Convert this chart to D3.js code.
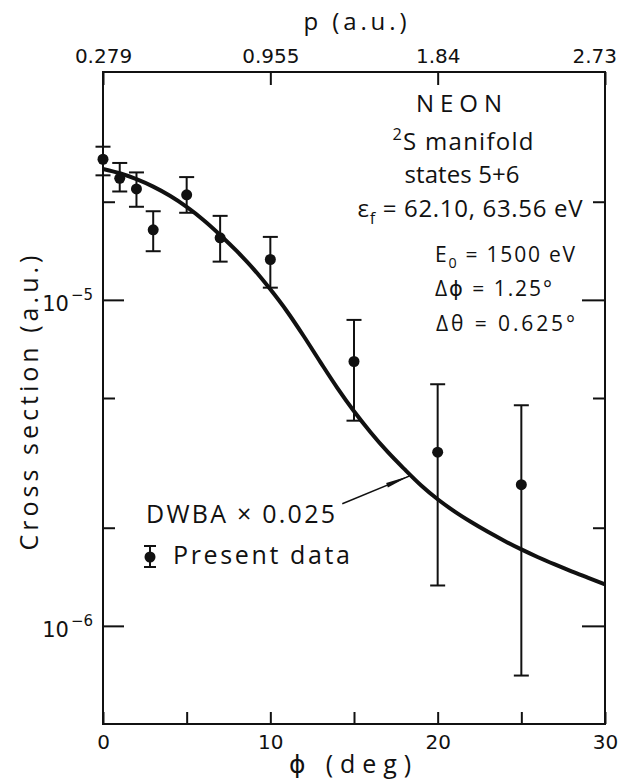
<!DOCTYPE html>
<html>
<head>
<meta charset="utf-8">
<script src="https://cdn.jsdelivr.net/npm/d3@7"></script>
<style>
  body { margin: 0; background: #fff; }
  text { font-family: "Open Sans", "DejaVu Sans", sans-serif; fill: #111; }
  .tk text { font-family: "DejaVu Sans", sans-serif; }
</style>
</head>
<body>
<div id="container"></div>
<script>
const w = 618, h = 783;
const margin = {top: 72, right: 13, bottom: 59, left: 103};

// Present data (phi in deg, cross section in a.u.)
const phiData = [0, 1, 2, 3, 5, 7, 10, 15, 20, 25];
const xsData  = [2.70e-5, 2.36e-5, 2.19e-5, 1.64e-5, 2.10e-5, 1.55e-5, 1.33e-5, 6.47e-6, 3.41e-6, 2.71e-6];
const errHigh = [2.95e-5, 2.63e-5, 2.46e-5, 1.87e-5, 2.38e-5, 1.81e-5, 1.56e-5, 8.68e-6, 5.51e-6, 4.75e-6];
const errLow  = [2.41e-5, 2.15e-5, 1.93e-5, 1.41e-5, 1.85e-5, 1.31e-5, 1.09e-5, 4.26e-6, 1.33e-6, 7.04e-7];

// DWBA x 0.025 curve
const phiCurve = [0,1,2,3,4,5,6,7,8,9,10,11,12,13,14,15,16,17,18,19,20,21,22,23,24,25,26,27,28,29,30];
const dwba = [2.520e-5, 2.445e-5, 2.346e-5, 2.225e-5, 2.086e-5, 1.929e-5, 1.759e-5, 1.582e-5, 1.410e-5, 1.243e-5,
              1.077e-5, 9.213e-6, 7.735e-6, 6.432e-6, 5.374e-6, 4.553e-6, 3.920e-6, 3.422e-6, 3.030e-6, 2.700e-6,
              2.445e-6, 2.245e-6, 2.082e-6, 1.943e-6, 1.822e-6, 1.716e-6, 1.624e-6, 1.543e-6, 1.470e-6, 1.404e-6, 1.341e-6];

// arrow from legend text to the curve
const arrowPhi = [14.3, 18.3];
const arrowVal = [2.37e-6, 2.88e-6];

// ticks
const bottomTicks = [0, 5, 10, 15, 20, 25, 30];
const bottomLabeled = [0, 10, 20, 30];
const topTicks = [0, 10, 20, 30];
const topLabels = ['0.279', '0.955', '1.84', '2.73'];
const yMajor = [1e-5, 1e-6];
const yMinor = [2e-5, 5e-6, 2e-6];

const svg = d3.select("#container").append("svg")
    .attr("width", w).attr("height", h);

const x = d3.scaleLinear().domain([0, 30]).range([margin.left, w - margin.right]);
const y = d3.scaleLog().domain([5e-7, 5e-5]).range([h - margin.bottom, margin.top]);

// bottom axis, ticks inward
svg.append("g").attr("class", "tk")
    .attr("transform", "translate(0," + (h - margin.bottom) + ")")
    .call(d3.axisBottom(x).tickValues(bottomTicks).tickSize(-12).tickPadding(11)
        .tickFormat(d => bottomLabeled.includes(d) ? d : ''))
    .call(g => g.select(".domain").remove())
    .call(g => g.selectAll("text").attr("font-size", 20));

// top axis
const topAx = svg.append("g").attr("class", "tk")
    .attr("transform", "translate(0," + margin.top + ")")
    .call(d3.axisTop(x).tickValues(topTicks).tickSize(-13).tickPadding(9)
        .tickFormat((d, i) => topLabels[i]))
    .call(g => g.select(".domain").remove())
    .call(g => g.selectAll("text").attr("font-size", 20));
// keep last label inside the page
topAx.selectAll(".tick text").each(function () {
    const b = this.getBBox();
    const tx = +this.parentNode.getAttribute("transform").match(/translate\(([\d.]+)/)[1];
    if (tx + b.x + b.width > w - 1) d3.select(this).attr("x", (w - 1) - (tx + b.x + b.width));
});

// left axis: major + minor
function supLabel(sel) {
    sel.selectAll("text").each(function (d) {
        const t = d3.select(this);
        t.text(null).attr("font-size", 21).attr("dy", "0.52em");
        t.append("tspan").text("10");
        t.append("tspan").attr("font-size", 15).attr("dy", "-0.72em").attr("dx", 2)
            .text("\u2212" + Math.round(-Math.log10(d)));
    });
}
svg.append("g").attr("class", "tk")
    .attr("transform", "translate(" + margin.left + ",0)")
    .call(d3.axisLeft(y).tickValues(yMajor).tickSize(-21).tickPadding(10))
    .call(g => g.select(".domain").remove())
    .call(supLabel);
svg.append("g")
    .attr("transform", "translate(" + margin.left + ",0)")
    .call(d3.axisLeft(y).tickValues(yMinor).tickSize(-12).tickFormat(''))
    .call(g => g.select(".domain").remove());
// right side
svg.append("g")
    .attr("transform", "translate(" + (w - margin.right) + ",0)")
    .call(d3.axisRight(y).tickValues(yMajor).tickSize(-23).tickFormat(''))
    .call(g => g.select(".domain").remove());
svg.append("g")
    .attr("transform", "translate(" + (w - margin.right) + ",0)")
    .call(d3.axisRight(y).tickValues(yMinor).tickSize(-12).tickFormat(''))
    .call(g => g.select(".domain").remove());

svg.selectAll(".tick line").attr("stroke", "#111").attr("stroke-width", 2);

// frame
svg.append("rect")
    .attr("x", x(0)).attr("y", y(5e-5))
    .attr("width", x(30) - x(0)).attr("height", y(5e-7) - y(5e-5))
    .attr("fill", "none").attr("stroke", "#111").attr("stroke-width", 2);

// DWBA curve
const curveData = phiCurve.map((p, i) => [p, dwba[i]]);
svg.append("path")
    .datum(curveData)
    .attr("d", d3.line().x(d => x(d[0])).y(d => y(d[1])).curve(d3.curveMonotoneX))
    .attr("fill", "none").attr("stroke", "#111").attr("stroke-width", 4);

// error bars + points
const pts = phiData.map((p, i) => ({phi: p, v: xsData[i], hi: errHigh[i], lo: errLow[i]}));
const cap = 7.5;
const eb = svg.append("g").attr("stroke", "#111").attr("stroke-width", 2);
eb.selectAll(".ev").data(pts).enter().append("line")
    .attr("x1", d => x(d.phi)).attr("x2", d => x(d.phi))
    .attr("y1", d => y(d.hi)).attr("y2", d => y(d.lo));
eb.selectAll(".ct").data(pts).enter().append("line")
    .attr("x1", d => x(d.phi) - cap).attr("x2", d => x(d.phi) + cap)
    .attr("y1", d => y(d.hi)).attr("y2", d => y(d.hi));
eb.selectAll(".cb").data(pts).enter().append("line")
    .attr("x1", d => x(d.phi) - cap).attr("x2", d => x(d.phi) + cap)
    .attr("y1", d => y(d.lo)).attr("y2", d => y(d.lo));
svg.selectAll(".dot").data(pts).enter().append("circle")
    .attr("class", "dot")
    .attr("cx", d => x(d.phi)).attr("cy", d => y(d.v)).attr("r", 5.5)
    .attr("fill", "#111");

// arrow
const ax0 = x(arrowPhi[0]), ay0 = y(arrowVal[0]), ax1 = x(arrowPhi[1]), ay1 = y(arrowVal[1]);
svg.append("line").attr("x1", ax0).attr("y1", ay0).attr("x2", ax1).attr("y2", ay1)
    .attr("stroke", "#111").attr("stroke-width", 1.5);
const ang = Math.atan2(ay1 - ay0, ax1 - ax0), L = 24, hw = 2.3;
const bx = ax1 - L * Math.cos(ang), by = ay1 - L * Math.sin(ang);
svg.append("path")
    .attr("d", `M${ax1},${ay1}L${bx - hw * Math.sin(ang)},${by + hw * Math.cos(ang)}L${bx + hw * Math.sin(ang)},${by - hw * Math.cos(ang)}Z`)
    .attr("fill", "#111");

// text helper: parts = [[string, 'n'|'sup'|'sub'], ...]
function label(px, py, parts, size, anchor, len) {
    const t = svg.append("text").attr("x", px).attr("y", py)
        .attr("font-size", size).attr("text-anchor", anchor || "start");
    let shift = 0;
    parts.forEach(([s, k]) => {
        const sp = t.append("tspan").text(s);
        let target = k === 'sup' ? -0.42 * size : k === 'sub' ? 0.3 * size : 0;
        if (k !== 'n') sp.attr("font-size", size * 0.68);
        sp.attr("dy", target - shift);
        shift = target;
    });
    if (len) t.attr("textLength", len).attr("lengthAdjust", "spacing");
    return t;
}

// annotation block
label(459, 112, [["NEON", 'n']], 24, "middle", 86);
label(463, 150, [["2", 'sup'], ["S manifold", 'n']], 24, "middle", 141);
label(462, 183, [["states 5+6", 'n']], 24, "middle", 115);
label(470, 217, [["\u03b5", 'n'], ["f", 'sub'], [" = 62.10, 63.56 eV", 'n']], 24, "middle", 225);
label(435, 262, [["E", 'n'], ["0", 'sub'], [" = 1500 eV", 'n']], 21, "start", 140);
label(435, 296, [["\u0394\u03d5 = 1.25\u00b0", 'n']], 21, "start", 117);
label(436, 331, [["\u0394\u03b8 = 0.625\u00b0", 'n']], 21, "start", 139);

// legend
label(146, 523, [["DWBA \u00d7 0.025", 'n']], 25, "start", 189);
label(173, 564, [["Present data", 'n']], 25, "start", 177);
const lg = svg.append("g").attr("stroke", "#111").attr("stroke-width", 2);
lg.append("line").attr("x1", 150).attr("x2", 150).attr("y1", 546).attr("y2", 567);
lg.append("line").attr("x1", 144).attr("x2", 156).attr("y1", 546).attr("y2", 546);
lg.append("line").attr("x1", 144).attr("x2", 156).attr("y1", 567).attr("y2", 567);
svg.append("circle").attr("cx", 150).attr("cy", 557).attr("r", 5.5).attr("fill", "#111");

// axis titles
label(355, 30, [["p (a.u.)", 'n']], 24, "middle", 103);
label(350, 773, [["\u03d5 (deg)", 'n']], 25, "middle", 122);
svg.append("text")
    .attr("transform", "translate(38,403) rotate(-90)")
    .attr("text-anchor", "middle").attr("font-size", 25)
    .attr("textLength", 295).attr("lengthAdjust", "spacing")
    .text("Cross section (a.u.)");
</script>
</body>
</html>
